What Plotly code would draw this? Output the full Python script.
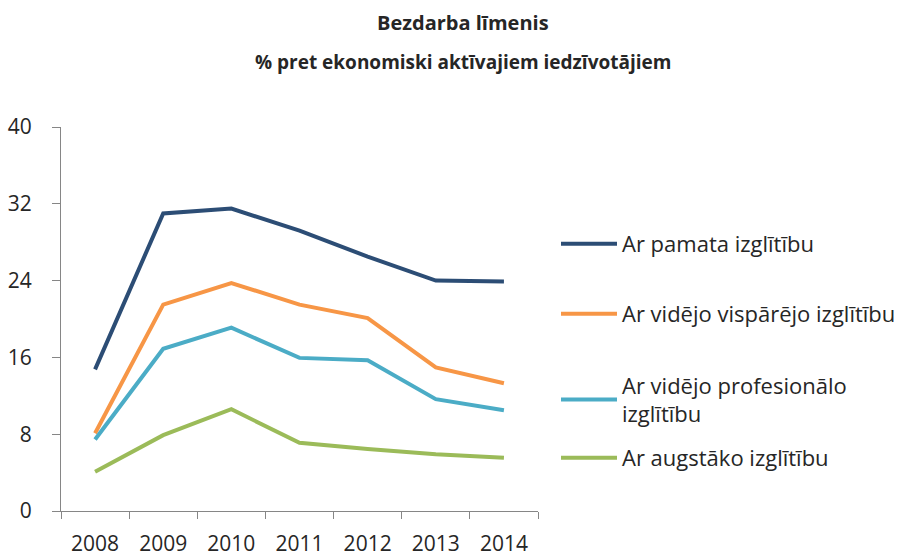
import plotly.graph_objects as go

years = ["2008", "2009", "2010", "2011", "2012", "2013", "2014"]
pamata = [14.75, 31.0, 31.5, 29.2, 26.5, 24.0, 23.9]
vid_visp = [8.1, 21.5, 23.75, 21.5, 20.1, 14.95, 13.3]
vid_prof = [7.45, 16.9, 19.1, 15.95, 15.7, 11.65, 10.5]
augst = [4.1, 7.9, 10.6, 7.1, 6.45, 5.9, 5.55]

names = ["Ar pamata izglītību", "Ar vidējo vispārējo izglītību",
         "Ar vidējo profesionālo<br>izglītību", "Ar augstāko izglītību"]
series = [pamata, vid_visp, vid_prof, augst]
colors = ["#2C4D75", "#F79646", "#4BACC6", "#9BBB59"]
y_ticks = [0, 8, 16, 24, 32, 40]

FONT = "Open Sans"
TXT = "#262626"

fig = go.Figure()
legend_ids = ["legend", "legend2", "legend3", "legend4"]
for name, vals, col, lg in zip(names, series, colors, legend_ids):
    fig.add_trace(go.Scatter(x=years, y=vals, mode="lines", name=name,
                             line=dict(color=col, width=4), legend=lg))

W, H = 899, 556
L, R, T, B = 61, 361, 127, 45
pw = W - L - R
ph = H - T - B

def py(px):
    return (H - B - px) / ph

def px_x(px):
    return (px - L) / pw

leg_common = dict(font=dict(family=FONT, size=22, color=TXT), bgcolor="rgba(0,0,0,0)",
                  xanchor="left", yanchor="middle", itemwidth=56, borderwidth=0)
layout_legends = {}
for lg, yc in zip(legend_ids, [244, 314, 400, 458]):
    layout_legends[lg] = dict(x=px_x(556), y=py(yc), **leg_common)

fig.update_layout(
    width=W, height=H,
    margin=dict(l=L, r=R, t=T, b=B, autoexpand=False),
    paper_bgcolor="white", plot_bgcolor="white",
    font=dict(family=FONT, size=21, color=TXT),
    showlegend=True,
    xaxis=dict(type="category", range=[-0.5, 6.5], tickson="boundaries",
               ticks="outside", ticklen=7, tickcolor="#868686", tickwidth=1,
               showline=True, linecolor="#868686", linewidth=1,
               showgrid=False, zeroline=False, ticklabelstandoff=14,
               tickfont=dict(family=FONT, size=21, color=TXT)),
    yaxis=dict(range=[0, 40], tickvals=y_ticks, ticks="outside", ticklen=8,
               tickcolor="#868686", tickwidth=1,
               showline=True, linecolor="#868686", linewidth=1,
               showgrid=False, zeroline=False, ticklabelstandoff=16,
               tickfont=dict(family=FONT, size=21, color=TXT)),
    annotations=[
        dict(text="<b>Bezdarba līmenis</b>", xref="paper", yref="paper",
             x=px_x(463), y=py(22), xanchor="center", yanchor="middle",
             showarrow=False, font=dict(family=FONT, size=20, color=TXT)),
        dict(text="<b>% pret ekonomiski aktīvajiem iedzīvotājiem</b>", xref="paper", yref="paper",
             x=px_x(463), y=py(62), xanchor="center", yanchor="middle",
             showarrow=False, font=dict(family=FONT, size=19, color=TXT)),
    ],
    **layout_legends,
)

fig.write_html("out.html", config={"displayModeBar": False},
               post_script="document.body.style.margin='0';")
